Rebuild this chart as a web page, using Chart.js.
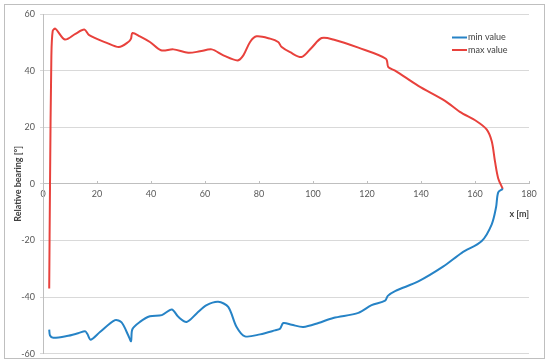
<!DOCTYPE html>
<html>
<head>
<meta charset="utf-8">
<script src="https://cdn.jsdelivr.net/npm/chart.js@4.4.1/dist/chart.umd.min.js"></script>
<style>
    body { margin: 0; background: #fff; }
    canvas { display: block; }
</style>
</head>
<body>
<canvas id="bearingChart" width="550" height="364"></canvas>
<script>
// Series (x in m, relative bearing in deg)
const seriesNames = ['min value', 'max value'];
const seriesColors = ['#2683c6', '#e8413c'];

const minX = [2.3, 2.6, 3.8, 8.8, 13, 15.6, 16.4, 17.7, 21.1, 26.7, 29.1, 31.6, 32.6, 33.1, 35.9, 39.6, 44, 47.7, 50.1, 53.2,
    56.9, 60.6, 64.9, 68.6, 71.7, 74.8, 80.4, 85.9, 87.8, 89, 92.1, 96.4, 102, 107.5, 116.8, 121.7, 126.7, 127.7, 130.4,
    139, 148.3, 155.1, 162.5, 166.2, 167.8, 168.6, 170.3];
const minY = [-51.5, -53.6, -54.4, -53.8, -52.8, -52.1, -53, -55.1, -52.4, -48.2, -49, -53.6, -55.6, -51.4, -48.8, -46.8, -46.4, -44.4, -47, -48.8,
    -45.8, -42.9, -41.7, -43.5, -50.6, -53.9, -53.2, -51.8, -51.2, -49.2, -49.8, -50.6, -49.2, -47.4, -45.6, -42.9, -41.3, -39.6, -37.9,
    -34.5, -29.2, -24.4, -20.2, -14.3, -8.3, -3, -1.8];

const maxX = [2.3, 2.6, 3.1, 3.6, 4.6, 8.1, 12, 15.3, 17.1, 23.6, 28.1, 31.6, 32.6, 33.1, 35.9, 39.6, 43.7, 48.3, 53.8, 58.1,
    62.5, 66.8, 72, 74.2, 76.7, 79.1, 84.1, 87.1, 88.4, 91.5, 95.8, 99.5, 103.2, 107.5, 116.8, 127, 127.9, 130.4,
    139, 148.9, 154.4, 160.6, 164.3, 166.2, 167.4, 168.6, 170.3];
const maxY = [-37, 0, 45, 54, 54.8, 51, 53, 54.5, 52.5, 49.8, 48.3, 50.1, 51.3, 53.3, 52.1, 50.1, 47.2, 47.5, 46.3, 46.8,
    47.5, 45.4, 43.6, 45.4, 50.1, 52.1, 51.3, 50.1, 48.3, 46.5, 44.8, 48.1, 51.5, 51, 48.1, 44.2, 41.2, 40,
    34.6, 29.3, 25.4, 22.1, 19.2, 15, 7.9, 1.9, -1.8];

const xTicks = [0, 20, 40, 60, 80, 100, 120, 140, 160, 180];
const yTicks = [-60, -40, -20, 0, 20, 40, 60];

const toPoints = (xs, ys) => xs.map((x, i) => ({ x: x, y: ys[i] }));

// Outer frame and the small legend in the top right corner
const framePlugin = {
    id: 'frame',
    afterDraw(chart) {
        const ctx = chart.ctx;
        ctx.save();
        ctx.strokeStyle = '#bfbfbf';
        ctx.lineWidth = 1;
        ctx.strokeRect(4.5, 4.5, 540, 354);

        ctx.font = '9px Lato';
        ctx.textBaseline = 'middle';
        ctx.fillStyle = '#404040';
        chart.data.datasets.forEach((ds, i) => {
            const y = 37.5 + i * 12.5;
            ctx.strokeStyle = ds.borderColor;
            ctx.lineWidth = 2;
            ctx.beginPath();
            ctx.moveTo(452, y);
            ctx.lineTo(467, y);
            ctx.stroke();
            ctx.fillText(ds.label, 468, y);
        });
        ctx.restore();
    }
};

const ctx = document.getElementById('bearingChart').getContext('2d');
const bearingChart = new Chart(ctx, {
    type: 'scatter',
    data: {
        datasets: [
            {
                label: seriesNames[0],
                data: toPoints(minX, minY),
                borderColor: seriesColors[0],
                backgroundColor: seriesColors[0],
                borderWidth: 2,
                showLine: true,
                pointRadius: 0,
                tension: 0.3
            },
            {
                label: seriesNames[1],
                data: toPoints(maxX, maxY),
                borderColor: seriesColors[1],
                backgroundColor: seriesColors[1],
                borderWidth: 2,
                showLine: true,
                pointRadius: 0,
                tension: 0.3
            }
        ]
    },
    options: {
        responsive: false,
        animation: false,
        layout: {
            padding: { top: 14, right: 21, bottom: 0, left: 0 }
        },
        plugins: {
            legend: { display: false },
            tooltip: { enabled: false }
        },
        scales: {
            x: {
                type: 'linear',
                position: { y: 0 },
                min: 0,
                max: 180,
                afterBuildTicks: (scale) => { scale.ticks = xTicks.map(v => ({ value: v })); },
                afterFit: (scale) => { scale.height = 15; },
                grid: {
                    drawOnChartArea: false,
                    drawTicks: true,
                    tickLength: -3,
                    color: '#bfbfbf'
                },
                border: { display: true, color: '#bfbfbf', width: 1 },
                ticks: {
                    padding: 8,
                    color: '#595959',
                    font: { family: 'Lato', size: 9 }
                },
                title: {
                    display: true,
                    text: 'x [m]',
                    align: 'end',
                    color: '#404040',
                    font: { family: 'Lato', size: 9, weight: 'bold' },
                    padding: { top: 0, bottom: -21 }
                }
            },
            y: {
                type: 'linear',
                position: 'left',
                min: -60,
                max: 60,
                afterBuildTicks: (scale) => { scale.ticks = yTicks.map(v => ({ value: v })); },
                afterFit: (scale) => { scale.width = 43; },
                grid: {
                    color: '#d9d9d9',
                    drawTicks: true,
                    tickLength: 3
                },
                border: { display: true, color: '#bfbfbf', width: 1 },
                ticks: {
                    padding: 5,
                    color: '#595959',
                    font: { family: 'Lato', size: 9 }
                },
                title: {
                    display: true,
                    text: 'Relative bearing [°]',
                    color: '#404040',
                    font: { family: 'Lato', size: 9, weight: 'bold' },
                    padding: { top: 13, bottom: 0 }
                }
            }
        }
    },
    plugins: [framePlugin]
});
</script>
</body>
</html>
